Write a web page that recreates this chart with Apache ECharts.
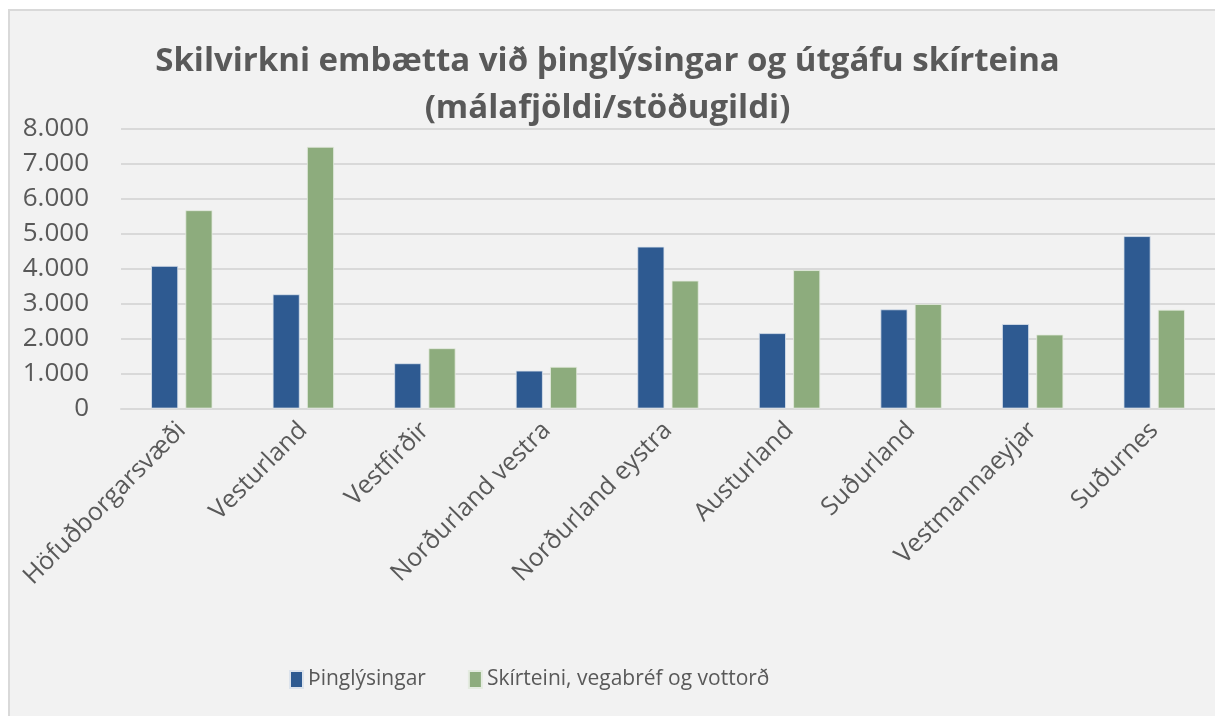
<!DOCTYPE html>
<html>
<head>
<meta charset="utf-8">
<script src="https://cdn.jsdelivr.net/npm/echarts@6/dist/echarts.min.js"></script>
<style>
  html, body { margin: 0; padding: 0; background: #fff; overflow: hidden; }
  #frame {
    position: absolute; left: 8px; top: 9px; width: 1230px; height: 730px;
    background: #f2f2f2; border: 2px solid #d9d9d9;
  }
  #main { position: absolute; left: 0; top: 0; width: 1215px; height: 716px; }
</style>
</head>
<body>
<div id="frame"></div>
<div id="main"></div>
<script>
// regions
const categories = ['Höfuðborgarsvæði', 'Vesturland', 'Vestfirðir', 'Norðurland vestra',
  'Norðurland eystra', 'Austurland', 'Suðurland', 'Vestmannaeyjar', 'Suðurnes'];

const thinglysingar = [4070, 3260, 1290, 1080, 4620, 2150, 2830, 2410, 4920];
const skirteini = [5660, 7470, 1720, 1190, 3650, 3950, 2980, 2110, 2820];

const seriesNames = ['Þinglýsingar', 'Skírteini, vegabréf og vottorð'];

const fontFamily = '"Open Sans", "Noto Sans", sans-serif';
const textColor = '#595959';

// 8000 -> "8.000"
function dotThousands(v) {
  return String(v).replace(/\B(?=(\d{3})+(?!\d))/g, '.');
}

const chart = echarts.init(document.getElementById('main'));

chart.setOption({
  backgroundColor: 'transparent',
  animation: false,
  title: {
    text: 'Skilvirkni embætta við þinglýsingar og útgáfu skírteina\n(málafjöldi/stöðugildi)',
    left: 'center',
    top: 33,
    textStyle: {
      fontFamily,
      fontSize: 33,
      fontWeight: 'bold',
      color: textColor,
      lineHeight: 47
    }
  },
  legend: {
    left: 284,
    top: 664,
    itemWidth: 13,
    itemHeight: 17,
    itemGap: 42,
    icon: 'rect',
    textStyle: { fontFamily, fontSize: 21, color: textColor },
    data: seriesNames
  },
  grid: {
    left: 121,
    width: 1098,
    top: 128.3,
    bottom: 307.5,
    containLabel: false
  },
  xAxis: {
    type: 'category',
    data: categories,
    axisLine: { lineStyle: { color: '#d9d9d9', width: 2 } },
    axisTick: { show: false },
    axisLabel: {
      rotate: 45,
      margin: 18,
      fontFamily,
      fontSize: 25,
      color: textColor,
      interval: 0
    }
  },
  yAxis: {
    type: 'value',
    min: 0,
    max: 8000,
    interval: 1000,
    axisLine: { show: false },
    axisTick: { show: false },
    splitLine: { lineStyle: { color: '#d9d9d9', width: 2 } },
    axisLabel: {
      margin: 32,
      fontFamily,
      fontSize: 26,
      color: textColor,
      formatter: dotThousands
    }
  },
  series: [
    {
      name: seriesNames[0],
      type: 'bar',
      data: thinglysingar,
      barWidth: 27,
      barGap: '27%',
      itemStyle: { color: '#2e5a91', borderColor: '#dce3ec', borderWidth: 0.8 }
    },
    {
      name: seriesNames[1],
      type: 'bar',
      data: skirteini,
      barWidth: 27,
      barGap: '27%',
      itemStyle: { color: '#8dac7d', borderColor: '#e4ebe0', borderWidth: 0.8 }
    }
  ]
});
</script>
</body>
</html>
